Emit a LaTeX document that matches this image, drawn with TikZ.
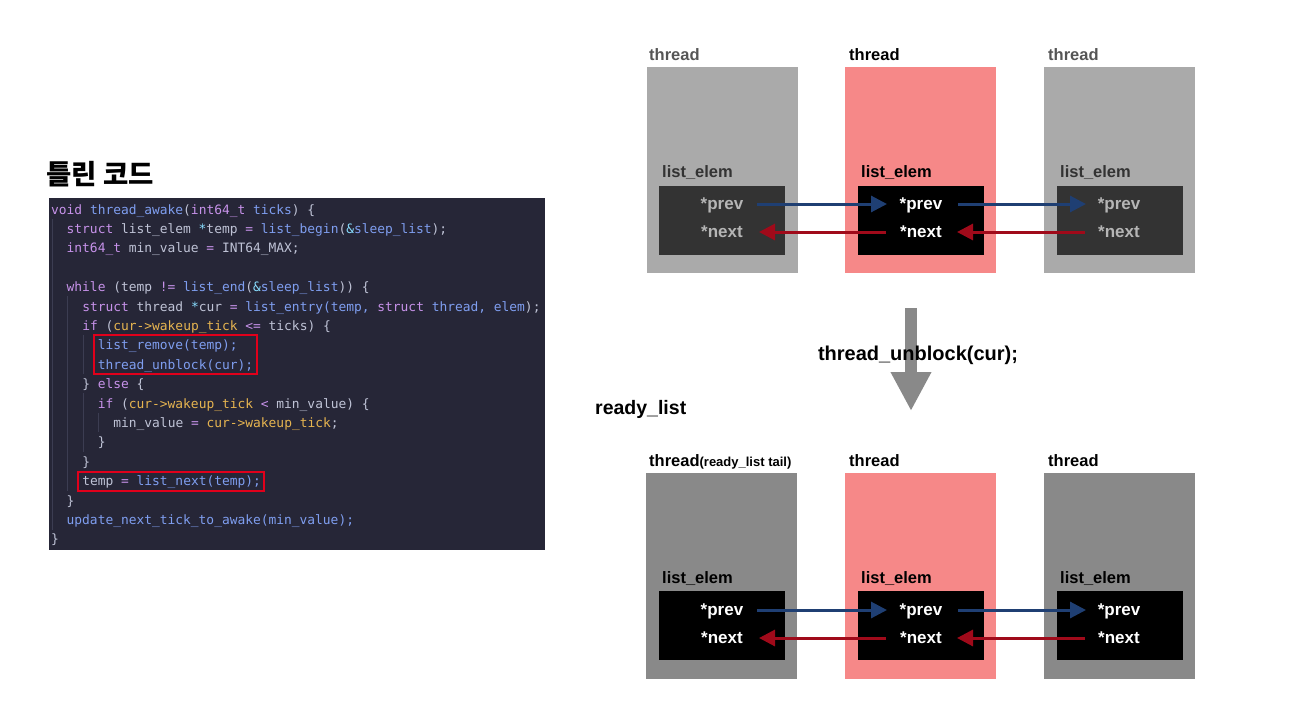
\documentclass[tikz,border=0pt]{standalone}
\usepackage{fontspec}
\setmainfont{Liberation Sans}
\setsansfont{Liberation Sans}
\setmonofont{DejaVu Sans Mono}
\newfontfamily\krfont{Noto Sans CJK KR}
\usetikzlibrary{arrows.meta}
\definecolor{codebg}{HTML}{262637}
\definecolor{ckw}{HTML}{C792EA}
\definecolor{cfn}{HTML}{7F9EF0}
\definecolor{cid}{HTML}{BFC3D6}
\definecolor{cmb}{HTML}{E6B450}
\definecolor{cop}{HTML}{89DDFF}
\definecolor{hlred}{HTML}{E0001B}
\definecolor{guide}{HTML}{3C3D52}
\definecolor{grayA}{HTML}{AAAAAA}
\definecolor{grayB}{HTML}{898989}
\definecolor{inner}{HTML}{333333}
\definecolor{pink}{HTML}{F68888}
\definecolor{lblue}{HTML}{1F3F73}
\definecolor{lred}{HTML}{A00A1A}
\definecolor{tgray}{HTML}{555555}
\definecolor{lgray}{HTML}{B5B5B5}
\newcommand\kwd[1]{\textcolor{ckw}{#1}}
\newcommand\fnc[1]{\textcolor{cfn}{#1}}
\newcommand\mbr[1]{\textcolor{cmb}{#1}}
\newcommand\opr[1]{\textcolor{cop}{#1}}
\tikzset{
  codeln/.style={anchor=base west, inner sep=0pt, text=cid, font=\ttfamily\fontsize{12.9}{14}\selectfont},
  thr/.style={anchor=north west, minimum width=151, minimum height=206, inner sep=0pt, draw=none},
  elembox/.style={anchor=north west, minimum width=126, minimum height=69, inner sep=0pt, draw=none},
  lbl/.style={anchor=base west, inner sep=0pt, font=\bfseries\fontsize{16.5}{18}\selectfont},
  ptr/.style={anchor=base, inner sep=0pt, font=\bfseries\fontsize{17}{18}\selectfont},
  fwd/.style={draw=lblue, line width=3pt, -{Triangle[length=16pt,width=16pt]}},
  bwd/.style={draw=lred, line width=3pt, -{Triangle[length=16pt,width=16pt]}},
  hlbox/.style={draw=hlred, line width=2.5pt},
  gline/.style={draw=guide, line width=0.8pt}
}
\begin{document}
\begin{tikzpicture}[x=1pt,y=-1pt]
\useasboundingbox (0,0) rectangle (1298,715);
% ---------- code panel ----------
\node[anchor=base west, inner sep=0pt, font=\krfont\bfseries\fontsize{27.5}{30}\selectfont] (title) at (46,184) {틀린 코드};
\node[anchor=north west, minimum width=496, minimum height=352, inner sep=0pt, fill=codebg] (code) at (49,198) {};
% indent guides
\draw[gline] (52,219) -- (52,530);
\draw[gline] (67.5,296) -- (67.5,491);
\draw[gline] (83,335) -- (83,374);
\draw[gline] (83,393) -- (83,452);
\draw[gline] (98.5,413) -- (98.5,432);
\node[codeln] (l1) at (51.0,214.0) {\kwd{void} \fnc{thread\_awake}(\kwd{int64\_t} \fnc{ticks}) \{};
\node[codeln] (l2) at (66.5,233.4) {\kwd{struct} list\_elem \opr{*}temp \kwd{=} \fnc{list\_begin}(\opr{\&}\fnc{sleep\_list});};
\node[codeln] (l3) at (66.5,252.8) {\kwd{int64\_t} min\_value \kwd{=} INT64\_MAX;};
\node[codeln] (l5) at (66.5,291.6) {\kwd{while} (temp \kwd{!=} \fnc{list\_end}(\opr{\&}\fnc{sleep\_list})) \{};
\node[codeln] (l6) at (82.1,311.0) {\kwd{struct} thread \opr{*}cur \kwd{=} \fnc{list\_entry(temp,} \kwd{struct} \fnc{thread, elem});};
\node[codeln] (l7) at (82.1,330.4) {\kwd{if} (\mbr{cur->wakeup\_tick} \kwd{<=} ticks) \{};
\node[codeln] (l8) at (97.6,349.8) {\fnc{list\_remove(temp);}};
\node[codeln] (l9) at (97.6,369.2) {\fnc{thread\_unblock(cur);}};
\node[codeln] (l10) at (82.1,388.6) {\} \kwd{else} \{};
\node[codeln] (l11) at (97.6,408.0) {\kwd{if} (\mbr{cur->wakeup\_tick} \kwd{<} min\_value) \{};
\node[codeln] (l12) at (113.2,427.4) {min\_value \kwd{=} \mbr{cur->wakeup\_tick};};
\node[codeln] (l13) at (97.6,446.8) {\}};
\node[codeln] (l14) at (82.1,466.2) {\}};
\node[codeln] (l15) at (82.1,485.6) {temp \kwd{=} \fnc{list\_next(temp);}};
\node[codeln] (l16) at (66.5,505.0) {\}};
\node[codeln] (l17) at (66.5,524.4) {\fnc{update\_next\_tick\_to\_awake(min\_value);}};
\node[codeln] (l18) at (51.0,543.8) {\}};
\draw[hlbox] (94,335) rectangle (257,374);
\draw[hlbox] (78,472) rectangle (264,491);
% ---------- top list ----------
\node[thr, fill=grayA] (ta) at (647,67) {};
\node[thr, fill=pink] (tb) at (845,67) {};
\node[thr, fill=grayA] (tc) at (1044,67) {};
\node[lbl, text=tgray] (tal) at (649,60) {thread};
\node[lbl, text=black] (tbl) at (849,60) {thread};
\node[lbl, text=tgray] (tcl) at (1048,60) {thread};
\node[lbl, text=inner] (eal) at (662,177) {list\_elem};
\node[lbl, text=black] (ebl) at (861,177) {list\_elem};
\node[lbl, text=inner] (ecl) at (1060,177) {list\_elem};
\node[elembox, fill=inner] (ea) at (659,186) {};
\node[elembox, fill=black] (eb) at (858,186) {};
\node[elembox, fill=inner] (ec) at (1057,186) {};
\node[ptr, text=lgray] (pa) at (722,209) {*prev};
\node[ptr, text=white] (pb) at (921,209) {*prev};
\node[ptr, text=lgray] (pc) at (1119,209) {*prev};
\node[ptr, text=lgray] (na) at (722,237) {*next};
\node[ptr, text=white] (nb) at (921,237) {*next};
\node[ptr, text=lgray] (nc) at (1119,237) {*next};
\draw[fwd] (757,204) -- (887,204);
\draw[bwd] (886,232) -- (759,232);
\draw[fwd] (958,204) -- (1086,204);
\draw[bwd] (1085,232) -- (957,232);
% ---------- transition ----------
\coordinate (bigS) at (911,308);
\coordinate (bigE) at (911,411);
\draw[draw=grayB, line width=12pt, -{Triangle[length=39pt,width=38pt]}] (bigS) -- (bigE);
\node[anchor=base, inner sep=0pt, font=\bfseries\fontsize{20}{22}\selectfont] (unb) at (918,360) {thread\_unblock(cur);};
\node[anchor=base west, inner sep=0pt, font=\bfseries\fontsize{19.5}{22}\selectfont] (rl) at (595,414) {ready\_list};
% ---------- bottom list ----------
\node[thr, fill=grayB] (ba) at (646,473) {};
\node[thr, fill=pink] (bb) at (845,473) {};
\node[thr, fill=grayB] (bc) at (1044,473) {};
\node[lbl, text=black] (bal) at (649,466) {thread{\fontsize{13}{14}\selectfont(ready\_list tail)}};
\node[lbl, text=black] (bbl) at (849,466) {thread};
\node[lbl, text=black] (bcl) at (1048,466) {thread};
\node[lbl, text=black] (fal) at (662,583) {list\_elem};
\node[lbl, text=black] (fbl) at (861,583) {list\_elem};
\node[lbl, text=black] (fcl) at (1060,583) {list\_elem};
\node[elembox, fill=black] (fa) at (659,591) {};
\node[elembox, fill=black] (fb) at (858,591) {};
\node[elembox, fill=black] (fc) at (1057,591) {};
\node[ptr, text=white] (qa) at (722,615) {*prev};
\node[ptr, text=white] (qb) at (921,615) {*prev};
\node[ptr, text=white] (qc) at (1119,615) {*prev};
\node[ptr, text=white] (ma) at (722,643) {*next};
\node[ptr, text=white] (mb) at (921,643) {*next};
\node[ptr, text=white] (mc) at (1119,643) {*next};
\draw[fwd] (757,610) -- (887,610);
\draw[bwd] (886,638) -- (759,638);
\draw[fwd] (958,610) -- (1086,610);
\draw[bwd] (1085,638) -- (957,638);
\end{tikzpicture}
\end{document}
